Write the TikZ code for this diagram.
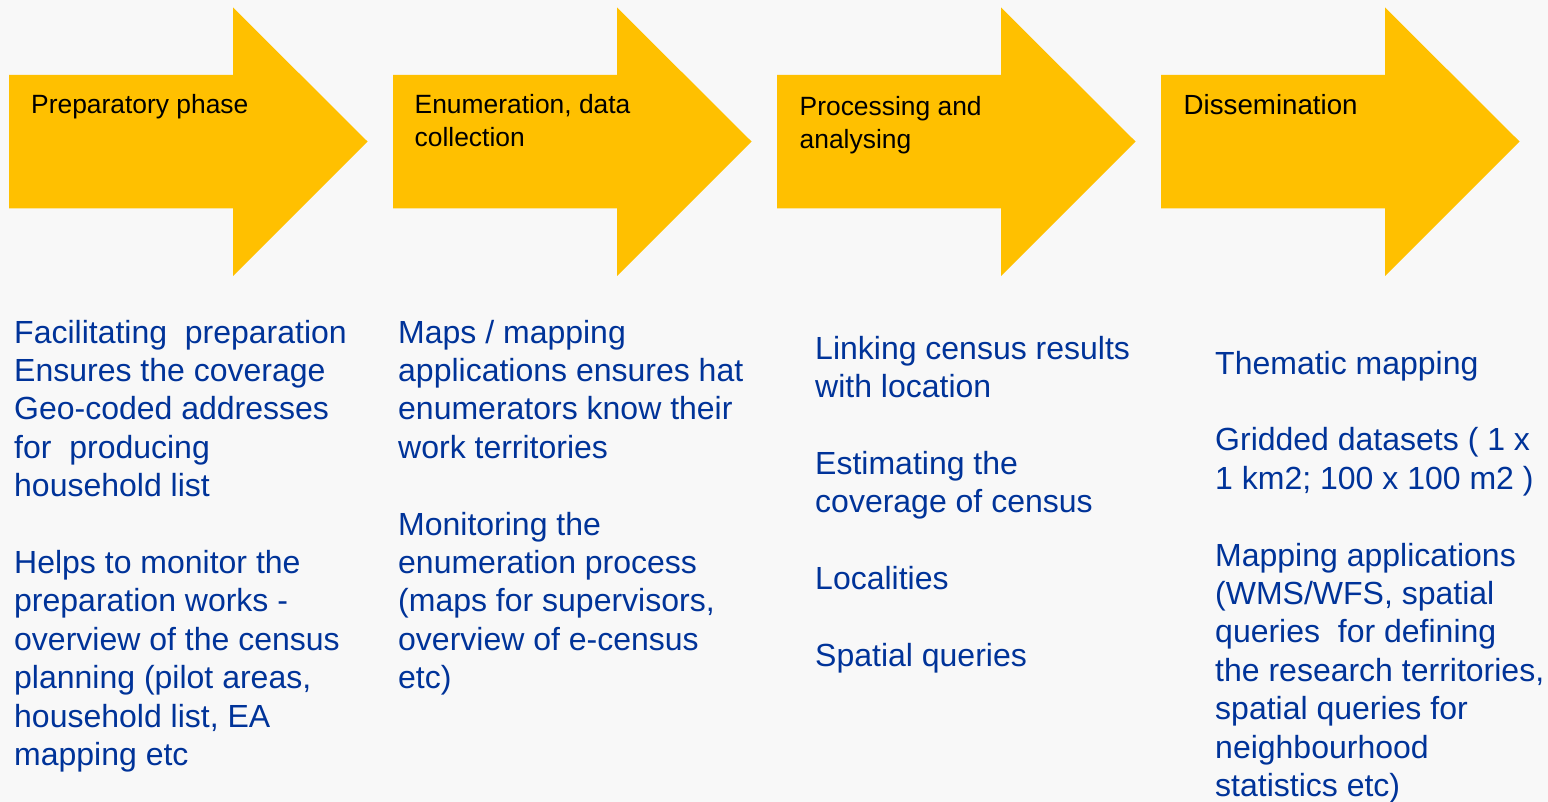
\documentclass[tikz,border=0pt]{standalone}
\usepackage{fontspec}
\setmainfont{Liberation Sans}
\usetikzlibrary{positioning}
\definecolor{phYellow}{HTML}{FFC000}
\definecolor{phBlue}{HTML}{003399}
\definecolor{phBack}{HTML}{F8F8F8}

\begin{document}
\begin{tikzpicture}[
  x=1pt,y=-1pt,
  phase/.style={fill=phYellow,draw=none},
  % multi-line nodes sit on the baseline of their last line
  title/.style={anchor=base west,inner sep=0pt,align=left,
    font=\fontsize{26.4}{33}\selectfont},
  notes/.style={anchor=base west,inner sep=0pt,align=left,text=phBlue,
    font=\fontsize{32}{38.4}\selectfont}
]
\fill[phBack] (0,0) rectangle (1548,802);
\useasboundingbox (0,0) rectangle (1548,802);

% the four phase arrows, one every 384pt
\foreach \i in {0,1,2,3}{
  \fill[phase,xshift=\i*384] (9,75) -- (233,75) -- (233,7.5) -- (367.5,141.5)
    -- (233,276) -- (233,208.5) -- (9,208.5) -- cycle;
}

% phase names
\node[title] (prep) at (31,114) {Preparatory phase};
\node[title] (enum) at (414.5,147) {Enumeration, data\\collection};
\node[title] (proc) at (799.5,148.5) {Processing and\\analysing};
\node[title,font=\fontsize{27.7}{33}\selectfont] (diss) at (1183.5,115) {Dissemination};

% what each phase does
\node[notes] (prepNotes) at (14,765.4) {Facilitating~ preparation\\
  Ensures the coverage\\Geo-coded addresses\\for~ producing\\household list\\[38.4pt]
  Helps to monitor the\\preparation works -\\overview of the census\\
  planning (pilot areas,\\household list, EA\\mapping etc};
\node[notes] (enumNotes) at (398,688.6) {Maps / mapping\\applications ensures hat\\
  enumerators know their\\work territories\\[38.4pt]
  Monitoring the\\enumeration process\\(maps for supervisors,\\
  overview of e-census\\etc)};
\node[notes] (procNotes) at (815,666.2) {Linking census results\\with location\\[38.4pt]
  Estimating the\\coverage of census\\[38.4pt]
  Localities\\[38.4pt]
  Spatial queries};
\node[notes] (dissNotes) at (1215,796.5) {Thematic mapping\\[38.4pt]
  Gridded datasets ( 1 x\\1 km2; 100 x 100 m2 )\\[38.4pt]
  Mapping applications\\(WMS/WFS, spatial\\queries~ for defining\\
  the research territories,\\spatial queries for\\neighbourhood\\statistics etc)};
\end{tikzpicture}
\end{document}
